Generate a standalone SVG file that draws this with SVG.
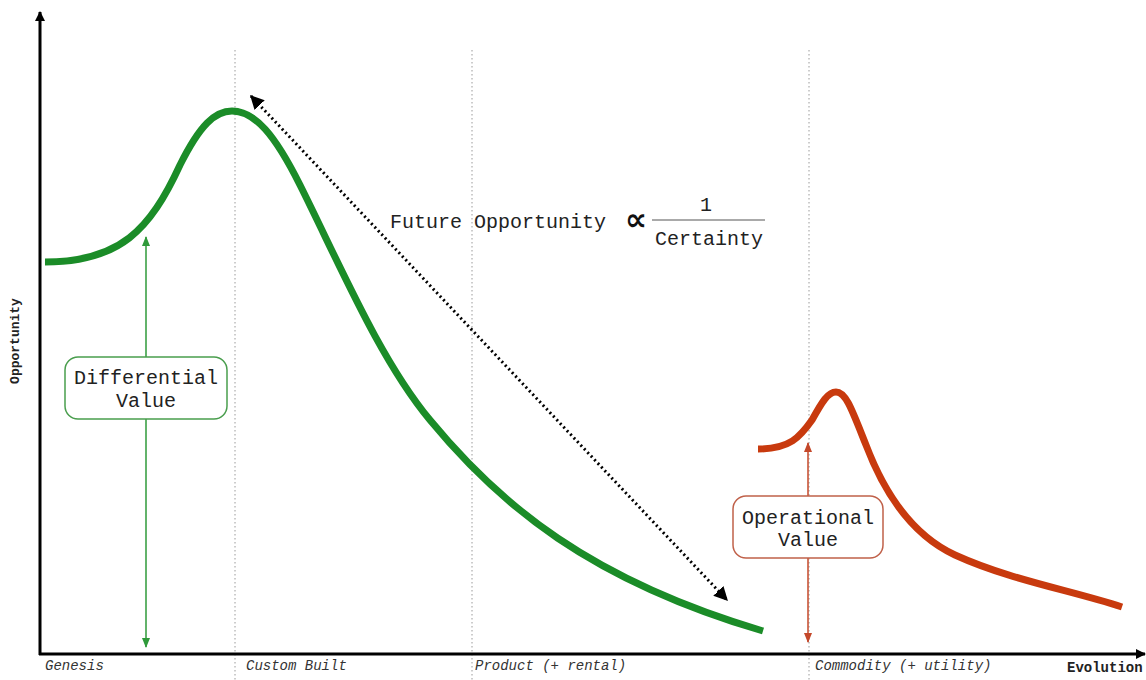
<svg xmlns="http://www.w3.org/2000/svg" width="1146" height="680" viewBox="0 0 1146 680">
<defs>
<style>
.mono{font-family:"Liberation Mono","Courier New",monospace;fill:#222}
.stage{font-family:"Liberation Mono",monospace;font-style:italic;font-size:14px;fill:#333}
.guide{stroke:#9a9a9a;stroke-width:1;stroke-dasharray:1.5,2.5;fill:none}
.box{fill:#fff;stroke-width:1.5}
</style>
<marker id="ax" viewBox="0 0 10 10" refX="9" refY="5" markerWidth="10" markerHeight="10" markerUnits="userSpaceOnUse" orient="auto-start-reverse"><path d="M0,0 L10,5 L0,10 z" fill="#000"/></marker>
<marker id="dot" viewBox="0 0 10 10" refX="9" refY="5" markerWidth="14" markerHeight="14" markerUnits="userSpaceOnUse" orient="auto-start-reverse"><path d="M0,0 L10,5 L0,10 z" fill="#000"/></marker>
<marker id="ga" viewBox="0 0 10 10" refX="9" refY="5" markerWidth="10" markerHeight="10" markerUnits="userSpaceOnUse" orient="auto-start-reverse"><path d="M0,1 L10,5 L0,9 z" fill="#2f9a3a"/></marker>
<marker id="ra" viewBox="0 0 10 10" refX="9" refY="5" markerWidth="10" markerHeight="10" markerUnits="userSpaceOnUse" orient="auto-start-reverse"><path d="M0,1 L10,5 L0,9 z" fill="#c4482a"/></marker>
</defs>
<rect width="1146" height="680" fill="#fff"/>
<g id="guides">
<line class="guide" x1="235" y1="50" x2="235" y2="680"/>
<line class="guide" x1="472" y1="50" x2="472" y2="680"/>
<line class="guide" x1="809" y1="50" x2="809" y2="680"/>
</g>
<g id="axes">
<line x1="40" y1="655" x2="40" y2="12" stroke="#000" stroke-width="3" marker-end="url(#ax)"/>
<line x1="39" y1="654" x2="1145" y2="654" stroke="#000" stroke-width="3" marker-end="url(#ax)"/>
<text class="mono" font-size="13" font-weight="bold" transform="translate(19,341) rotate(-90)" text-anchor="middle">Opportunity</text>
<text class="mono" x="1067" y="672" font-size="14" font-weight="bold">Evolution</text>
<text class="stage" x="45" y="670">Genesis</text>
<text class="stage" x="246" y="670">Custom Built</text>
<text class="stage" x="475" y="670">Product (+ rental)</text>
<text class="stage" x="815" y="670">Commodity (+ utility)</text>
</g>
<g id="curves">
<path id="green-curve" d="M45,262 C120,262 150,230 180,165 C200,125 215,111 232,111 C255,111 275,135 300,185 C340,265 380,360 430,420 C500,505 590,580 763,631" fill="none" stroke="#1b8c28" stroke-width="7"/>
<path id="red-curve" d="M758,449 C790,449 800,437 812,420 C822,402 828,392 836,392 C846,392 852,410 866,445 C885,495 912,535 955,555 C1010,580 1070,590 1122,607" fill="none" stroke="#c83a0e" stroke-width="7"/>
</g>
<g id="connectors">
<line x1="146" y1="237" x2="146" y2="647" stroke="#2f9a3a" stroke-width="1.5" marker-start="url(#ga)" marker-end="url(#ga)"/>
<line x1="808" y1="443" x2="808" y2="642" stroke="#c4482a" stroke-width="1.5" marker-start="url(#ra)" marker-end="url(#ra)"/>
<line x1="251" y1="96" x2="727" y2="600" stroke="#000" stroke-width="3" stroke-dasharray="2,3" marker-start="url(#dot)" marker-end="url(#dot)"/>
</g>
<g id="differential-value">
<rect class="box" x="65" y="357" width="162" height="62" rx="13" stroke="#4a9e4e"/>
<text class="mono" font-size="20" text-anchor="middle" x="146" y="384">Differential</text>
<text class="mono" font-size="20" text-anchor="middle" x="146" y="407">Value</text>
</g>
<g id="operational-value">
<rect class="box" x="733" y="496" width="150" height="62" rx="13" stroke="#c0614a"/>
<text class="mono" font-size="20" text-anchor="middle" x="808" y="524">Operational</text>
<text class="mono" font-size="20" text-anchor="middle" x="808" y="546">Value</text>
</g>
<g id="formula">
<text class="mono" font-size="20" x="390" y="228">Future Opportunity</text>
<text x="636" y="230" font-family="DejaVu Sans,sans-serif" font-weight="bold" font-size="31" text-anchor="middle" fill="#111">∝</text>
<text class="mono" font-size="20" x="706" y="211" text-anchor="middle">1</text>
<line x1="652" y1="220" x2="765" y2="220" stroke="#555" stroke-width="1"/>
<text class="mono" font-size="20" x="709" y="245" text-anchor="middle">Certainty</text>
</g>
</svg>
